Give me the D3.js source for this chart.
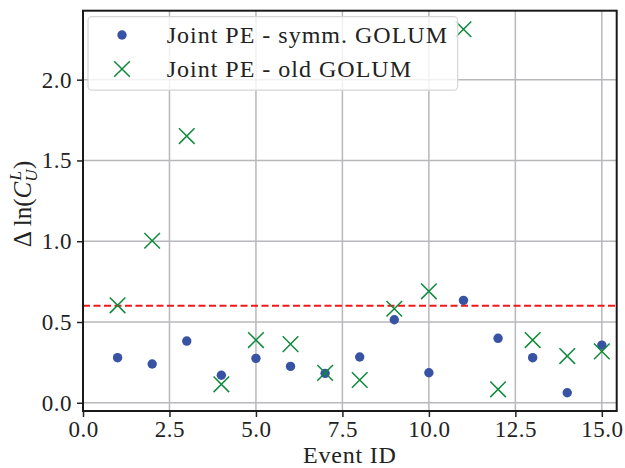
<!DOCTYPE html>
<html><head><meta charset="utf-8">
<script src="https://cdn.jsdelivr.net/npm/d3@7"></script>
<style>body{margin:0;background:#fff}svg{display:block}text{font-family:"Liberation Serif","DejaVu Serif",serif;fill:#222}</style>
</head><body><svg id="c" width="625" height="468"></svg>
<script>
const eventIds = [1,2,3,4,5,6,7,8,9,10,11,12,13,14,15];
const symmGolum = [0.279,0.240,0.382,0.170,0.275,0.225,0.182,0.283,0.514,0.186,0.634,0.399,0.279,0.062,0.357];
const oldGolum = [0.603,1.003,1.651,0.114,0.388,0.363,0.185,0.141,0.582,0.690,2.312,0.083,0.388,0.289,0.318];
const threshold = 0.6;
const xTicks = [0,2.5,5,7.5,10,12.5,15];
const yTicks = [0,0.5,1.0,1.5,2.0];
const seriesLabels = ["Joint PE - symm. GOLUM","Joint PE - old GOLUM"];

const svg = d3.select("#c");
const L=83, R=616.7, T=10.7, B=411;
const x = d3.scaleLinear().domain([0,15.43]).range([L,R]);
const y = d3.scaleLinear().domain([-0.051,2.427]).range([B,T]);
const blue="#3953a4", green="#0e8a3c", grid="#b8b8bc";

// grid
svg.append("g").selectAll("line").data(xTicks).join("line")
  .attr("x1",d=>x(d)).attr("x2",d=>x(d)).attr("y1",T).attr("y2",B)
  .attr("stroke",grid).attr("stroke-width",1.5);
svg.append("g").selectAll("line").data(yTicks).join("line")
  .attr("y1",d=>y(d)).attr("y2",d=>y(d)).attr("x1",L).attr("x2",R)
  .attr("stroke",grid).attr("stroke-width",1.5);

// threshold
svg.append("line").attr("x1",L).attr("x2",R).attr("y1",y(threshold)).attr("y2",y(threshold))
  .attr("stroke","#f01818").attr("stroke-width",2).attr("stroke-dasharray","7,3.5");

// points
svg.append("g").selectAll("circle").data(eventIds).join("circle")
  .attr("cx",d=>x(d)).attr("cy",(d,i)=>y(symmGolum[i])).attr("r",4.7).attr("fill",blue);
const xs = 7.8;
svg.append("g").selectAll("path").data(eventIds).join("path")
  .attr("d",(d,i)=>{const cx=x(d), cy=y(oldGolum[i]);
    return `M${cx-xs},${cy-xs}L${cx+xs},${cy+xs}M${cx-xs},${cy+xs}L${cx+xs},${cy-xs}`;})
  .attr("stroke",green).attr("stroke-width",1.5).attr("fill","none");

// axes
const xAxis = d3.axisBottom(x).tickValues(xTicks).tickFormat(d3.format(".1f")).tickSize(6).tickPadding(4);
const yAxis = d3.axisLeft(y).tickValues(yTicks).tickFormat(d3.format(".1f")).tickSize(6).tickPadding(5);
const gx = svg.append("g").attr("transform",`translate(0,${B})`).call(xAxis);
const gy = svg.append("g").attr("transform",`translate(${L},0)`).call(yAxis);
[gx,gy].forEach(g=>{g.select(".domain").remove();
  g.selectAll(".tick line").attr("stroke","#222").attr("stroke-width",1.5);
  g.selectAll(".tick text").attr("font-family","Liberation Serif").attr("font-size",23)
    .attr("letter-spacing",0.5).attr("fill","#222");});

// frame
svg.append("rect").attr("x",L).attr("y",T).attr("width",R-L).attr("height",B-T)
  .attr("fill","none").attr("stroke","#1a1a1a").attr("stroke-width",2);

// legend
const lg = svg.append("g");
lg.append("rect").attr("x",88).attr("y",16.7).attr("width",369.7).attr("height",73.5).attr("rx",4)
  .attr("fill","white").attr("fill-opacity",0.8).attr("stroke","#d6d6d6").attr("stroke-width",1.2);
lg.append("circle").attr("cx",122).attr("cy",35).attr("r",4.7).attr("fill",blue);
lg.append("path").attr("d",`M${122-xs},${69-xs}L${122+xs},${69+xs}M${122-xs},${69+xs}L${122+xs},${69-xs}`)
  .attr("stroke",green).attr("stroke-width",1.5);
lg.selectAll("text").data(seriesLabels).join("text")
  .attr("x",166.7).attr("y",(d,i)=>[43,77][i]).attr("font-size",24).attr("letter-spacing",1).text(d=>d);

// axis labels
svg.append("text").attr("x",(L+R)/2).attr("y",463).attr("text-anchor","middle").attr("font-size",24)
  .attr("letter-spacing",0.8).text("Event ID");
const yl = svg.append("text").attr("transform","translate(31,204) rotate(-90)").attr("text-anchor","middle").attr("font-size",25);
yl.append("tspan").text("Δ ln(");
yl.append("tspan").attr("font-style","italic").text("C");
yl.append("tspan").attr("font-style","italic").attr("font-size",17).attr("dy",6).text("U");
yl.append("tspan").attr("font-style","italic").attr("font-size",17).attr("dx",-11).attr("dy",-16).text("L");
yl.append("tspan").attr("dx",2).attr("dy",10).text(")");
</script></body></html>
